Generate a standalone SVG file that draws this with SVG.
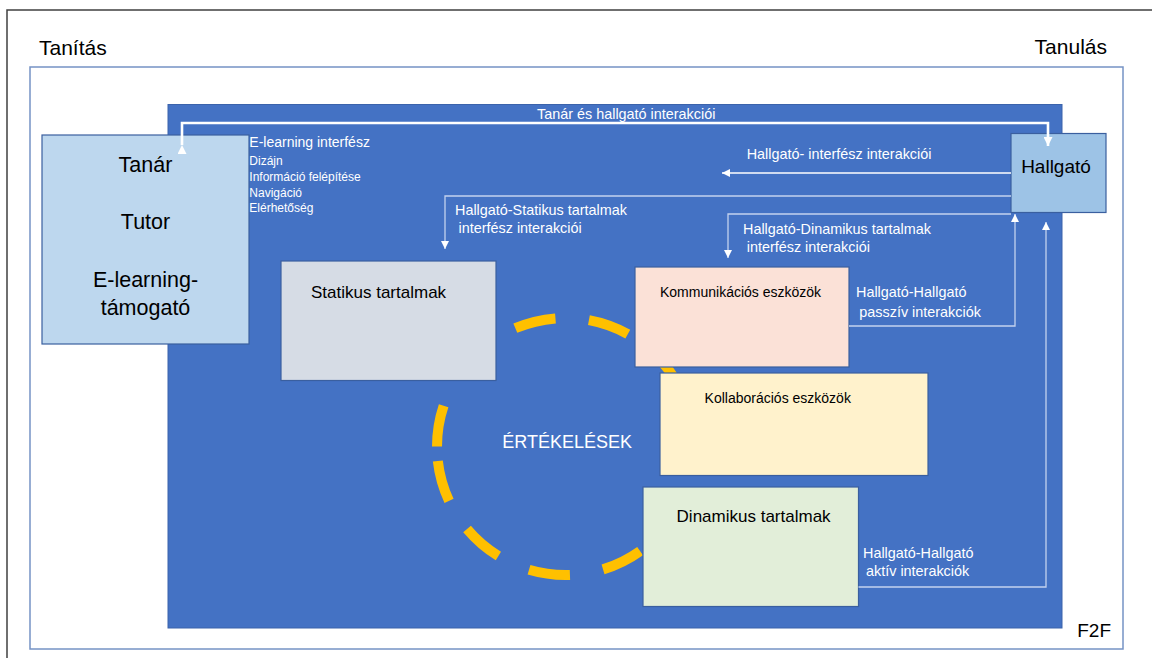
<svg xmlns="http://www.w3.org/2000/svg" width="1152" height="658" viewBox="0 0 1152 658">
<defs>
<style>
text{font-family:"Liberation Sans",Arial,sans-serif}
.blk{fill:#000}
.wht{fill:#fff}
.box{stroke:#3a5f9f;stroke-width:1.2}
.thin{fill:none;stroke:#fff;stroke-width:1.3}
.soft{fill:none;stroke:#c3d2ee;stroke-width:1.3}
.thick{fill:none;stroke:#fff;stroke-width:2.6}
.eval{fill:none;stroke:#FFC000;stroke-width:10;stroke-dasharray:41.5 33.6}
</style>
<marker id="ah" viewBox="0 0 10 10" refX="10" refY="5" markerWidth="8" markerHeight="9" markerUnits="userSpaceOnUse" orient="auto">
<path d="M0,0 L10,5 L0,10 z" fill="#fff"/>
</marker>
<marker id="ahT" viewBox="0 0 10 10" refX="10" refY="5" markerWidth="10" markerHeight="9" markerUnits="userSpaceOnUse" orient="auto">
<path d="M0,0 L10,5 L0,10 z" fill="#fff"/>
</marker>
</defs>
<rect width="1152" height="658" fill="#fff"/>
<g id="frames">
<path d="M7,658 V10 H1152" fill="none" stroke="#404040" stroke-width="1.5"/>
<rect x="30" y="67" width="1093" height="582" fill="none" stroke="#7593c5" stroke-width="1.5"/>
<text x="39" y="55" font-size="21" class="blk">Tanítás</text>
<text x="1107" y="54" font-size="21" class="blk" text-anchor="end">Tanulás</text>
<text x="1111" y="637" font-size="19" class="blk" text-anchor="end">F2F</text>
</g>
<g id="online-area">
<rect x="168" y="104.5" width="894" height="523.5" fill="#4472C4" stroke="#3b63ab" stroke-width="1"/>
</g>
<g id="ertekelesek">
<path class="eval" d="M437,446.5 A128.5,128.5 0 1 1 694,446.5 A128.5,128.5 0 1 1 437,446.5"/>
<text x="502.3" y="448.3" font-size="18" class="wht">ÉRTÉKELÉSEK</text>
</g>
<g id="tanar">
<rect class="box" x="42" y="135" width="207" height="209" fill="#BDD7EE"/>
<text x="145.5" y="171.7" font-size="21.5" class="blk" text-anchor="middle">Tanár</text>
<text x="145.5" y="229.3" font-size="21.5" class="blk" text-anchor="middle">Tutor</text>
<text x="145.5" y="286.7" font-size="21.5" class="blk" text-anchor="middle">E-learning-</text>
<text x="145.5" y="315" font-size="21.5" class="blk" text-anchor="middle">támogató</text>
</g>
<g id="elearning-interfesz">
<text x="249.3" y="147.3" font-size="14" class="wht">E-learning interfész</text>
<text x="249.3" y="165" font-size="12" class="wht">Dizájn</text>
<text x="249.3" y="180.5" font-size="12" class="wht">Információ felépítése</text>
<text x="249.3" y="196.5" font-size="12" class="wht">Navigáció</text>
<text x="249.3" y="212" font-size="12" class="wht">Elérhetőség</text>
</g>
<g id="hallgato">
<rect class="box" x="1011" y="133.5" width="95" height="79" fill="#9DC3E6"/>
<text x="1056" y="173.3" font-size="19" class="blk" text-anchor="middle">Hallgató</text>
</g>
<g id="statikus">
<rect class="box" x="281" y="261" width="215" height="119.5" fill="#D6DCE5"/>
<text x="311" y="298.3" font-size="17" class="blk">Statikus tartalmak</text>
</g>
<g id="kommunikacios">
<rect class="box" x="635" y="267" width="214" height="100" fill="#FBE1D7"/>
<text x="660" y="297.3" font-size="14" class="blk">Kommunikációs eszközök</text>
</g>
<g id="kollaboracios">
<rect class="box" x="660" y="373" width="268" height="102.5" fill="#FFF2CC"/>
<text x="704.6" y="402.7" font-size="14" class="blk">Kollaborációs eszközök</text>
</g>
<g id="dinamikus">
<rect class="box" x="643" y="487" width="215.5" height="119.5" fill="#E2EED9"/>
<text x="676.6" y="522.3" font-size="17" class="blk">Dinamikus tartalmak</text>
</g>
<g id="connectors">
<path class="thick" d="M182,145 V123 H1048 V146" marker-start="url(#ahT)" marker-end="url(#ahT)"/>
<path class="thin" d="M1011,173 H722" marker-end="url(#ah)"/>
<path class="soft" d="M1011,196 H445 V249" marker-end="url(#ah)"/>
<path class="soft" d="M1011,214 H728 V258" marker-end="url(#ah)"/>
<path class="soft" d="M849,326 H1015 V214" marker-end="url(#ah)"/>
<path class="soft" d="M858.5,587 H1046 V222" marker-end="url(#ah)"/>
</g>
<g id="connector-labels">
<text x="537" y="119" font-size="14.4" class="wht">Tanár és hallgató interakciói</text>
<text x="746.7" y="158.5" font-size="14.4" class="wht">Hallgató- interfész interakciói</text>
<text x="455" y="215" font-size="14.4" class="wht">Hallgató-Statikus tartalmak</text>
<text x="458.5" y="233.3" font-size="14.4" class="wht">interfész interakciói</text>
<text x="743" y="234" font-size="14.4" class="wht">Hallgató-Dinamikus tartalmak</text>
<text x="746.7" y="252" font-size="14.4" class="wht">interfész interakciói</text>
<text x="856" y="297.3" font-size="14.4" class="wht">Hallgató-Hallgató</text>
<text x="859.3" y="316.7" font-size="14.4" class="wht">passzív interakciók</text>
<text x="863" y="557.7" font-size="14.4" class="wht">Hallgató-Hallgató</text>
<text x="866" y="575.5" font-size="14.4" class="wht">aktív interakciók</text>
</g>
</svg>
